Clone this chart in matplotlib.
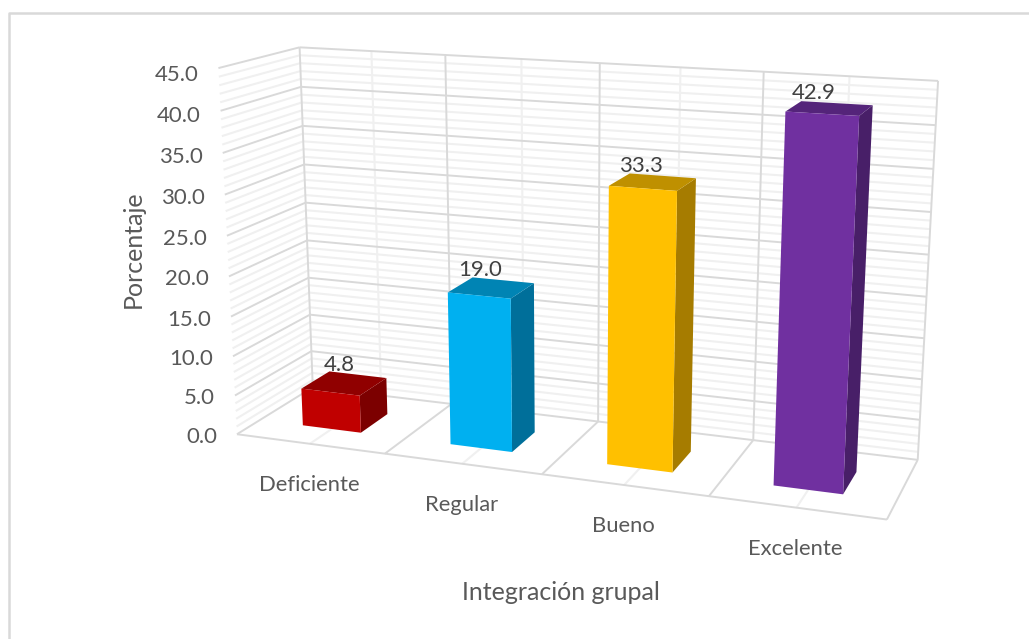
import numpy as np
import matplotlib
matplotlib.use("Agg")
import matplotlib.pyplot as plt
from matplotlib.patches import Polygon

categorias = ["Deficiente", "Regular", "Bueno", "Excelente"]
valores = [4.8, 19.0, 33.3, 42.9]
ticks_z = [0, 5, 10, 15, 20, 25, 30, 35, 40, 45]

col_frente = ["#C00000", "#00B0F0", "#FFC000", "#7030A0"]
col_techo = ["#900000", "#0084B4", "#BF9000", "#54247A"]
col_lado = ["#7C0000", "#006F9A", "#A67C00", "#481F68"]

GRIS_MAYOR = "#D9D9D9"
GRIS_MENOR = "#F0F0F0"
TEXTO = "#595959"

# Calibracion de la camara: esquinas de la caja (x, prof, z) -> pixel de la imagen
mundo = np.array([
    (0, 0, 0), (4, 0, 0), (4, 1, 0), (0, 1, 0),
    (0, 0, 45), (4, 1, 45), (0, 1, 45),
    (1, 0, 0), (2, 0, 0), (3, 0, 0),
    (1, 1, 0), (3, 1, 0),
    (1, 1, 45), (3, 1, 45),
], dtype=float)
pixel = np.array([
    (237, 433), (886, 520), (918, 460), (313, 387),
    (217, 69), (938, 80), (300, 47),
    (385, 454), (543, 474), (710, 496),
    (450, 405), (753, 440),
    (447, 55), (763, 72),
], dtype=float)


def calibrar(mundo, pixel):
    filas, lado = [], []
    for (x, y, z), (u, v) in zip(mundo, pixel):
        filas.append([x, y, z, 1, 0, 0, 0, 0, -u*x, -u*y, -u*z])
        filas.append([0, 0, 0, 0, x, y, z, 1, -v*x, -v*y, -v*z])
        lado += [u, v]
    p = np.linalg.lstsq(np.array(filas), np.array(lado), rcond=None)[0]
    return np.append(p, 1.0).reshape(3, 4)


CAM = calibrar(mundo, pixel)


def proy(x, y, z):
    u, v, w = CAM @ np.array([x, y, z, 1.0])
    return u / w, v / w


fig = plt.figure(figsize=(10.29, 6.39), dpi=100)
ax = fig.add_axes([0, 0, 1, 1])
ax.set_xlim(0, 1029)
ax.set_ylim(639, 0)
ax.axis("off")
plt.rcParams["font.family"] = ["Lato", "DejaVu Sans"]


def linea(a, b, color, lw, zorder=1):
    ax.plot([a[0], b[0]], [a[1], b[1]], color=color, lw=lw, zorder=zorder,
            solid_capstyle="butt")


# Marco del grafico
ax.plot([8.5, 8.5, 1029], [639, 13, 13], color=GRIS_MAYOR, lw=1.8, zorder=1)

# Lineas menores de las paredes (cada 1 unidad)
for z in range(46):
    if z % 5:
        linea(proy(0, 0, z), proy(0, 1, z), GRIS_MENOR, 1.5)
        linea(proy(0, 1, z), proy(4, 1, z), GRIS_MENOR, 1.5)

# Verticales y divisiones del piso
for x in np.arange(0.5, 4, 1):
    linea(proy(x, 1, 0), proy(x, 1, 45), GRIS_MENOR, 1.5)
    linea(proy(x, 0, 0), proy(x, 1, 0), GRIS_MENOR, 1.5)
for x in [1, 2, 3]:
    linea(proy(x, 1, 0), proy(x, 1, 45), GRIS_MAYOR, 1.4, 2)
    linea(proy(x, 0, 0), proy(x, 1, 0), GRIS_MAYOR, 1.4, 2)
linea(proy(0, 1, 0), proy(0, 1, 45), GRIS_MAYOR, 1.4, 2)
linea(proy(4, 1, 0), proy(4, 1, 45), GRIS_MAYOR, 1.4, 2)
linea(proy(4, 0, 0), proy(4, 1, 0), GRIS_MAYOR, 1.4, 2)
linea(proy(0, 0, 0), proy(4, 0, 0), GRIS_MAYOR, 1.4, 2)

# Lineas mayores y etiquetas del eje z
for z in ticks_z:
    linea(proy(0, 0, z), proy(0, 1, z), GRIS_MAYOR, 1.4, 2)
    linea(proy(0, 1, z), proy(4, 1, z), GRIS_MAYOR, 1.4, 2)
    u, v = proy(0, 0, z)
    ax.text(u - 20, v + 3 + max(0, z - 30) * 0.27, f"{z:.1f}", ha="right", va="center",
            fontsize=16, color=TEXTO, zorder=6)

# Barras
ANCHO = 0.40
P0, P1 = 0.29, 0.67
desvio_etiqueta = [8.5, 1, -2, -8]
for i, val in enumerate(valores):
    x0, x1 = i + 0.5 - ANCHO / 2, i + 0.5 + ANCHO / 2
    lado = [proy(x1, P0, 0), proy(x1, P1, 0), proy(x1, P1, val), proy(x1, P0, val)]
    techo = [proy(x0, P0, val), proy(x1, P0, val), proy(x1, P1, val), proy(x0, P1, val)]
    frente = [proy(x0, P0, 0), proy(x1, P0, 0), proy(x1, P0, val), proy(x0, P0, val)]
    ax.add_patch(Polygon(lado, closed=True, fc=col_lado[i], ec="none", zorder=3))
    ax.add_patch(Polygon(techo, closed=True, fc=col_techo[i], ec="none", zorder=3))
    ax.add_patch(Polygon(frente, closed=True, fc=col_frente[i], ec="none", zorder=4))

    u = proy(i + 0.5, P0, val)[0]
    v = proy(i + 0.5, P1, val)[1]
    ax.text(u + desvio_etiqueta[i], v - 10, f"{val:.1f}", ha="center", va="center",
            fontsize=16, color="#404040", zorder=6)

    u, v = proy(i + 0.5, 0, 0)
    ax.text(u - 1, v + 41, categorias[i], ha="center", va="center", fontsize=15.8,
            color=TEXTO, zorder=6)

ax.text(133, 249, "Porcentaje", rotation=90, ha="center", va="center", fontsize=18, color=TEXTO)
ax.text(561, 593, "Integración grupal", ha="center", va="center", fontsize=18, color=TEXTO)

fig.savefig("out.png", dpi=100)
